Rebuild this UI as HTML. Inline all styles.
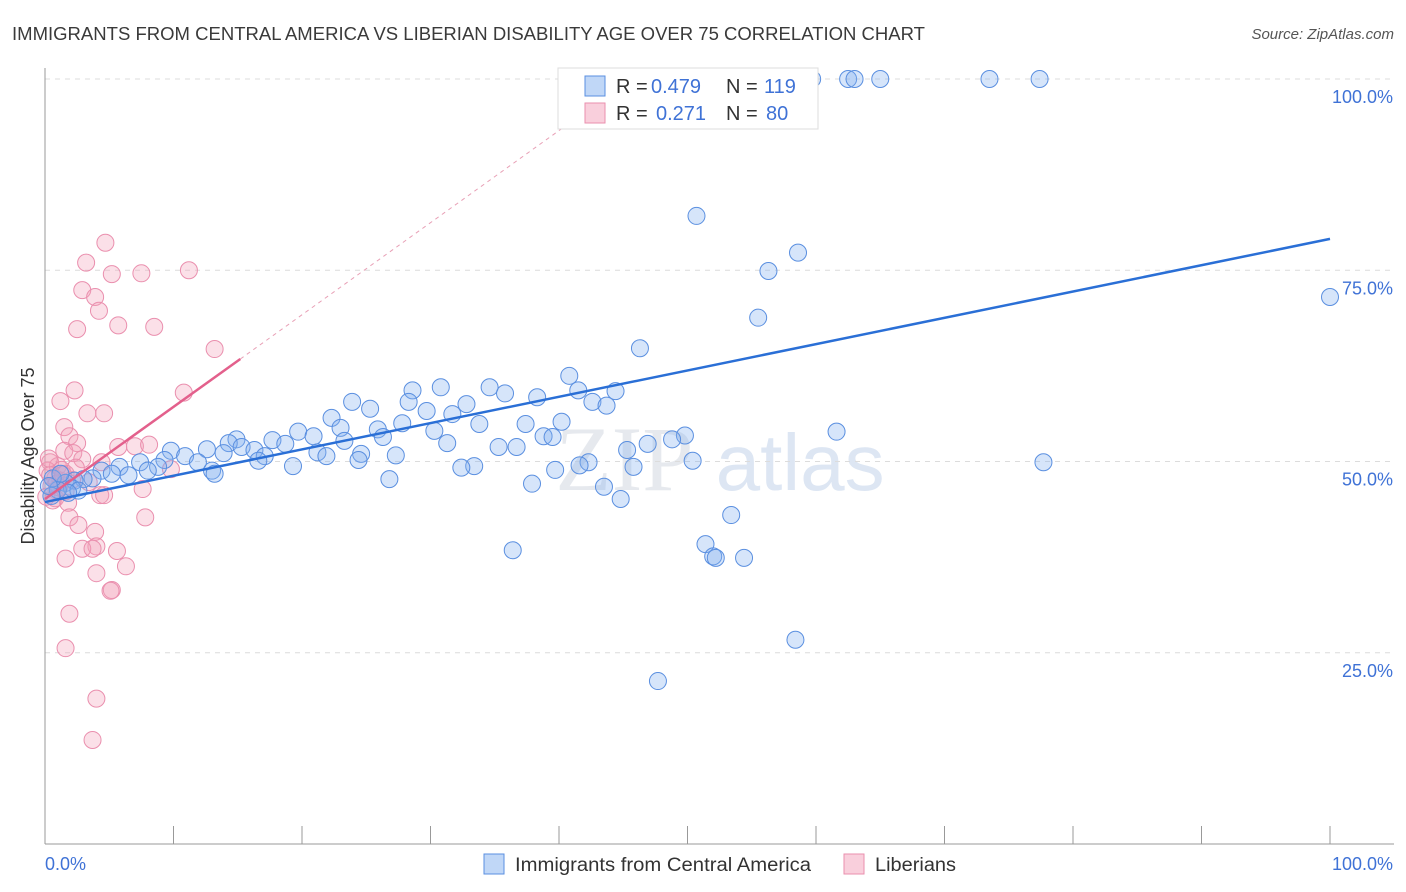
<!DOCTYPE html>
<html><head><meta charset="utf-8"><style>
body{margin:0;background:#fff;font-family:"Liberation Sans",sans-serif}
#wrap{position:relative;width:1406px;height:892px;overflow:hidden}
</style></head><body>
<div id="wrap">
<svg id="chart" width="1406" height="892" style="position:absolute;left:0;top:0"></svg>
</div>
<script>
const blueX=[59.7,62.5,63,65,73.5,77.4,50.7,58.6,56.3,100,55.5,46.3,40.8,34.6,30.8,28.6,44.4,41.5,35.8,38.3,23.9,28.3,32.8,42.6,43.7,25.3,29.7,31.7,22.3,40.2,27.8,33.8,37.4,19.7,25.9,23,30.3,49.8,61.6,38.8,39.5,20.9,26.3,14.9,17.7,23.3,31.3,48.8,46.9,45.3,35.3,36.7,14.3,18.7,15.3,12.6,16.3,9.8,13.9,21.2,24.6,21.9,27.3,17.1,10.9,24.4,16.6,9.3,11.9,50.4,77.7,42.3,41.6,45.8,39.7,33.4,32.4,19.3,7.4,8.8,13,13.2,5.8,8,6.5,4.4,5.2,3.7,3,2.3,1.6,2.1,1,0.5,26.8,37.9,43.5,44.8,53.4,36.4,51.4,52,52.2,54.4,58.4,47.7,0.6,1.2,0.3,2.6,1.8];
const blueY=[100,100,100,100,100,100,82.1,77.3,74.9,71.5,68.8,64.8,61.2,59.7,59.7,59.3,59.2,59.3,58.9,58.4,57.8,57.8,57.5,57.8,57.3,56.9,56.6,56.2,55.7,55.2,55,54.9,54.9,53.9,54.2,54.4,54,53.4,53.9,53.3,53.2,53.3,53.2,52.9,52.8,52.7,52.4,52.9,52.3,51.5,51.9,51.9,52.4,52.3,51.9,51.6,51.5,51.4,51.1,51.2,51,50.7,50.8,50.7,50.7,50.2,50.1,50.2,49.9,50.1,49.9,49.9,49.5,49.3,48.9,49.4,49.2,49.4,49.9,49.3,48.8,48.4,49.3,48.8,48.2,48.8,48.4,47.8,47.7,47.5,47.2,46.5,46.3,45.5,47.7,47.1,46.7,45.1,43,38.4,39.2,37.6,37.4,37.4,26.7,21.3,47.8,48.4,46.8,46.2,45.9];
const pinkX=[4.7,3.2,5.2,7.5,11.2,2.9,3.9,4.2,5.7,2.5,8.5,13.2,2.3,10.8,1.2,3.3,4.6,1.5,1.9,2.5,5.7,7,8.1,1.5,2.2,2.9,4.4,0.4,1,9.8,1.6,0.8,3.4,7.6,4.3,4.6,0.8,1.8,1.9,7.8,2.6,3.9,4,2.9,3.7,5.6,1.6,6.3,4,5.2,5.1,1.9,1.6,4,3.7,0.2,0.5,0.9,1.2,0.4,1.3,0.6,0.1,1.6,0.9,2.1,1.4,0.3,2.4,1.1];
const pinkY=[78.6,76,74.5,74.6,75,72.4,71.5,69.7,67.8,67.3,67.6,64.7,59.3,59,57.9,56.3,56.3,54.5,53.3,52.4,51.9,52,52.2,51.4,51.1,50.3,49.9,49.9,49.4,49,48.4,47.8,47.3,46.4,45.6,45.6,45.2,44.6,42.7,42.7,41.7,40.8,38.9,38.6,38.6,38.3,37.3,36.3,35.4,33.2,33.1,30.1,25.6,19,13.6,48.8,46.8,46.2,47.5,48.2,48.9,44.9,45.4,46.1,47.1,47.6,48.3,50.4,49.2,46.6];
const blueTrend=[44.7,79.1];
const pinkTrend=[45.1,63.4,15.2];
const yTicks=[25,50,75,100];
const yTickLabels=["25.0%","50.0%","75.0%","100.0%"];
const xTicks=[0,10,20,30,40,50,60,70,80,90,100];

const svg=document.getElementById('chart');
const NS='http://www.w3.org/2000/svg';
const X=v=>45+v*12.85;
const Y=v=>844-v*7.65;
function mk(tag,attrs,parent){const e=document.createElementNS(NS,tag);for(const k in attrs)e.setAttribute(k,attrs[k]);(parent||svg).appendChild(e);return e;}

let t=mk('text',{x:12,y:40,'font-size':18.5,fill:'#3a3a3a',textLength:913,lengthAdjust:'spacingAndGlyphs'});t.textContent='IMMIGRANTS FROM CENTRAL AMERICA VS LIBERIAN DISABILITY AGE OVER 75 CORRELATION CHART';

t=mk('text',{x:1394,y:39,'font-size':15,fill:'#555','text-anchor':'end','font-style':'italic'});t.textContent='Source: ZipAtlas.com';


t=mk('text',{x:720,y:490,'font-size':92,fill:'#e6e9ee','text-anchor':'middle','font-family':'Liberation Serif, serif'});
t.innerHTML='ZIP<tspan font-family="Liberation Sans, sans-serif" fill="#dde6f3" font-size="80"> atlas</tspan>';


yTicks.forEach((v,i)=>{
 const g=mk('line',{x1:45,x2:1394,y1:Y(v),y2:Y(v),stroke:'#dcdcdc','stroke-dasharray':'5,5'});
 
 const l=mk('text',{x:1393,y:Y(v)+24,'font-size':18,fill:'#3f72d6','text-anchor':'end'});l.textContent=yTickLabels[i];
 
});
let a=mk('line',{x1:45,x2:45,y1:68,y2:844,stroke:'#999'});
a=mk('line',{x1:45,x2:1394,y1:844,y2:844,stroke:'#999'});
xTicks.forEach(v=>{const k=mk('line',{x1:X(v),x2:X(v),y1:826,y2:844,stroke:'#999'});});
t=mk('text',{x:45,y:870,'font-size':18,fill:'#3f72d6'});t.textContent='0.0%';
t=mk('text',{x:1393,y:870,'font-size':18,fill:'#3f72d6','text-anchor':'end'});t.textContent='100.0%';
t=mk('text',{x:34,y:456,'font-size':18,fill:'#333','text-anchor':'middle',transform:'rotate(-90 34 456)'});t.textContent='Disability Age Over 75';


let ln=mk('line',{x1:X(pinkTrend[2]),y1:Y(pinkTrend[1]),x2:X(42),y2:Y(pinkTrend[0]+(pinkTrend[1]-pinkTrend[0])/pinkTrend[2]*42),stroke:'#e8a0b6','stroke-dasharray':'4,4','stroke-width':1});


pinkX.forEach((v,i)=>{const c=mk('circle',{cx:X(v),cy:Y(pinkY[i]),r:8.5,fill:'rgba(244,160,186,0.33)',stroke:'#ea8fae','stroke-width':1});
 });
blueX.forEach((v,i)=>{const c=mk('circle',{cx:X(v),cy:Y(blueY[i]),r:8.5,fill:'rgba(130,175,240,0.33)',stroke:'#5a8fe0','stroke-width':1});
 });

ln=mk('line',{x1:X(0),y1:Y(blueTrend[0]),x2:X(100),y2:Y(blueTrend[1]),stroke:'#2a6fd6','stroke-width':2.5});

ln=mk('line',{x1:X(0),y1:Y(pinkTrend[0]),x2:X(pinkTrend[2]),y2:Y(pinkTrend[1]),stroke:'#e3608c','stroke-width':2.5});


let g=mk('g',{});
mk('rect',{x:558,y:68,width:260,height:61,fill:'#fff',stroke:'#ddd'},g);
mk('rect',{x:585,y:76,width:20,height:20,fill:'rgba(130,175,240,0.5)',stroke:'#5a8fe0'},g);
mk('rect',{x:585,y:103,width:20,height:20,fill:'rgba(244,160,186,0.5)',stroke:'#ea8fae'},g);
t=mk('text',{x:616,y:93,'font-size':20,fill:'#333'},g);t.innerHTML='R = <tspan x="651" fill="#3f72d6">0.479</tspan><tspan x="726">N = </tspan><tspan x="764" fill="#3f72d6">119</tspan>';
t=mk('text',{x:616,y:120,'font-size':20,fill:'#333'},g);t.innerHTML='R = <tspan x="656" fill="#3f72d6">0.271</tspan><tspan x="726">N = </tspan><tspan x="766" fill="#3f72d6">80</tspan>';

g=mk('g',{});
let r=mk('rect',{x:484,y:854,width:20,height:20,fill:'rgba(130,175,240,0.5)',stroke:'#5a8fe0'},g);

t=mk('text',{x:515,y:871,'font-size':19,fill:'#333',textLength:296,lengthAdjust:'spacingAndGlyphs'},g);t.textContent='Immigrants from Central America';

r=mk('rect',{x:844,y:854,width:20,height:20,fill:'rgba(244,160,186,0.5)',stroke:'#ea8fae'},g);

t=mk('text',{x:875,y:871,'font-size':19,fill:'#333',textLength:81,lengthAdjust:'spacingAndGlyphs'},g);t.textContent='Liberians';

</script>
</body></html>
